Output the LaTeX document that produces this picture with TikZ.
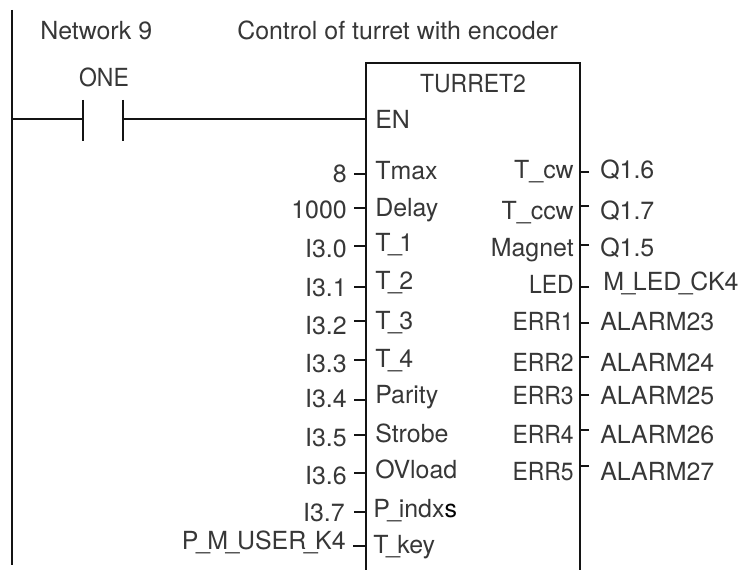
\documentclass[tikz,border=0pt]{standalone}
\usepackage{fontspec}
\setmainfont{TeX Gyre Heros}
\usepackage{tikz}
\usetikzlibrary{positioning,calc}
\definecolor{inkline}{RGB}{20,20,20}
\definecolor{inktext}{RGB}{55,55,55}
\newcommand{\usc}{\kern-.1em\_\kern-.1em}
\newcommand{\narrowcaps}[1]{{\addfontfeature{FakeStretch=0.92}#1}}
\tikzset{
  wire/.style={draw=inkline, line width=1.5pt},
  stub/.style={draw=inkline, line width=1.5pt},
  lab/.style={font=\fontsize{18.7}{21}\selectfont, text=inktext, inner sep=0pt},
  fblock/.style={draw=inkline, line width=1.5pt, minimum width=160.5pt, minimum height=450pt, inner sep=0pt}
}

\begin{document}
\begin{tikzpicture}[x=0.75pt, y=-0.75pt]
          \useasboundingbox (0,0) rectangle (743,570);
          \clip (0,0) rectangle (743,570);
          % rail and contact
          \coordinate (railtop) at (12,10);
          \coordinate (railbot) at (12,565);
          \coordinate (railen) at (12,119);
          \draw[wire] (railtop) -- (railbot);
          \node[fblock, anchor=north west] (turret) at (365,62) {};
          \coordinate (contactl) at (83,119);
          \coordinate (contactr) at (123,119);
          \draw[wire] (railen) -- (contactl);
          \draw[wire] (contactr) -- (contactr -| turret.west);
          \draw[wire] ($(contactl)+(0,-19)$) -- ($(contactl)+(0,22)$);
          \draw[wire] ($(contactr)+(0,-19)$) -- ($(contactr)+(0,22)$);
          % titles
          \node[lab, anchor=base west] (netno) at (40,40) {Network 9};
          \node[lab, anchor=base west] (nettitle) at (237,40) {Control of turret with encoder};
          \node[lab, anchor=base] (onelab) at (104,87) {\narrowcaps{ONE}};
          \node[lab, anchor=base] (blockname) at (473,93) {\narrowcaps{TURRET2}};
          \node[lab, anchor=base west] (enlab) at (375,129) {EN};
          % inputs
          \foreach \n/\val/\pin/\sy/\vy/\py in {
            a/8/Tmax/174/183/180,
            b/1000/Delay/208/219/217,
            c/I3.0/T\usc 1/246/258/252,
            d/I3.1/T\usc 2/287/297/290,
            e/I3.2/T\usc 3/321/335/330,
            f/I3.3/T\usc 4/360/373/368,
            g/I3.4/Parity/400/407/403,
            h/I3.5/Strobe/435/446/442,
            i/I3.6/OVload/473/484/479}{
            \coordinate (s\n) at (354,\sy);
            \draw[stub] (s\n) -- (s\n -| turret.west);
            \node[lab, anchor=base east] (v\n) at (347,\vy) {\val};
            \node[lab, anchor=base west] (p\n) at (375,\py) {\pin};
          }
          \coordinate (sj) at (354,512);
          \draw[stub] (sj) -- (sj -| turret.west);
          \node[lab, anchor=base east] (vj) at (345,521) {I3.7};
          \node[lab, anchor=base west] (pj) at (373,517) {P\usc indx{\color{black}s}};
          \coordinate (sk) at (353,546);
          \draw[stub] (sk) -- (sk -| turret.west);
          \node[lab, anchor=base east] (vk) at (346,549) {P\usc M\usc USER\usc K4};
          \node[lab, anchor=base west] (pk) at (373,553) {T\usc key};
          % outputs
          \foreach \n/\pin/\val/\sy/\py in {
            a/T\_cw/Q1.6/172/179,
            b/T\_ccw/Q1.7/206/220,
            c/Magnet/Q1.5/245/257,
            e/\narrowcaps{ERR1}/ALARM23/323/331,
            f/\narrowcaps{ERR2}/ALARM24/357/372,
            g/\narrowcaps{ERR3}/ALARM25/395/405,
            h/\narrowcaps{ERR4}/ALARM26/430/443,
            i/\narrowcaps{ERR5}/ALARM27/466/480}{
            \coordinate (t\n) at (589,\sy);
            \draw[stub] (t\n) -- (t\n -| turret.east);
            \node[lab, anchor=base east] (q\n) at (574,\py) {\pin};
            \node[lab, anchor=base west] (o\n) at (600,\py) {\val};
          }
          \coordinate (td) at (589,287);
          \draw[stub] (td) -- (td -| turret.east);
          \node[lab, anchor=base east] (qd) at (574,294) {\narrowcaps{LED}};
          \node[lab, anchor=base west] (od) at (603,291) {M\usc LED\usc CK4};
        \end{tikzpicture}
\end{document}
